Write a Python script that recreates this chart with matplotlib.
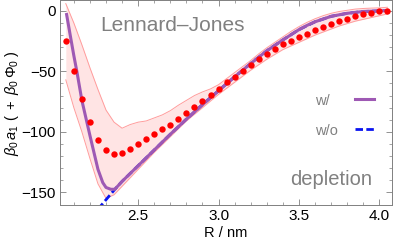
import numpy as np
import matplotlib
matplotlib.use("Agg")
import matplotlib.pyplot as plt
from matplotlib.lines import Line2D

plt.rcParams['font.family'] = ['Liberation Sans', 'DejaVu Sans']
plt.rcParams['mathtext.fontset'] = 'custom'
plt.rcParams['mathtext.rm'] = 'Liberation Sans'
plt.rcParams['mathtext.it'] = 'Liberation Sans:italic'

# simulation points (red dots) and error band
r_sim = [2.05, 2.10, 2.15, 2.20, 2.25, 2.30, 2.35, 2.40, 2.45, 2.50,
         2.55, 2.60, 2.65, 2.70, 2.75, 2.80, 2.85, 2.90, 2.95, 3.00,
         3.05, 3.10, 3.15, 3.20, 3.25, 3.30, 3.35, 3.40, 3.45, 3.50,
         3.55, 3.60, 3.65, 3.70, 3.75, 3.80, 3.85, 3.90, 3.95, 4.00, 4.05]
a_sim = [-25, -50, -73, -92, -106.5, -115, -118, -117.5, -114, -110,
         -106, -102, -98, -94, -89.6, -84.7, -79.7, -74.3, -69.6, -64.4,
         -58.9, -54.5, -49.8, -44.6, -40.1, -35.5, -31.4, -27.5, -24.5, -21.5,
         -18.7, -15.7, -13.2, -10.8, -8.3, -6.3, -4.4, -2.8, -1.7, -0.5, 0]
band_hi = [6, -10, -28, -47, -65, -82, -92, -97, -94, -92,
           -91, -88.5, -86, -82.5, -78, -74, -70, -67, -64.5, -61,
           -56, -51, -46, -41, -35.5, -30.5, -26, -21.5, -17, -13,
           -9.5, -6.5, -4, -2, -0.5, 0.5, 1.5, 2, 2.3, 2.5, 3]
band_lo = [-57, -80, -100, -122, -143, -155, -152, -145, -138, -131,
           -124, -117, -110.5, -104, -97.5, -91, -85.5, -80, -74.5, -69,
           -64, -59, -54, -49, -44.5, -40, -36, -32, -29, -26,
           -23, -20, -17.5, -15, -12.5, -10.5, -8.5, -7, -5.5, -4, -2.5]

# theory with depletion ("w/")
r_w = [2.055, 2.08, 2.10, 2.12, 2.15, 2.20, 2.25, 2.28, 2.30, 2.33, 2.355,
       2.40, 2.50, 2.60, 2.70, 2.80, 2.90, 3.00, 3.10, 3.20, 3.30, 3.40,
       3.50, 3.55, 3.60, 3.70, 3.80, 3.90, 4.00, 4.05]
a_w = [-3, -22, -37, -51, -74, -103, -131, -142, -146, -147.5, -147.5,
       -141, -128, -115, -102, -89.5, -77.5, -66, -54.5, -43.5, -33, -24,
       -15.5, -12, -9, -4.5, -2, -0.5, 0, 0.3]

# theory without depletion ("w/o")
r_wo = [2.25, 2.355, 2.40, 2.50, 2.60, 2.70, 2.80, 2.90, 3.00, 3.10, 3.20,
        3.30, 3.40, 3.50, 3.60, 3.70, 3.80, 3.90, 4.00, 4.05]
a_wo = [-164, -147.5, -141, -128, -115, -102, -89.5, -77.5, -66, -54.5, -43.5,
        -33, -24, -15.5, -9, -4.5, -2, -0.5, 0, 0.3]

purple = '#9E59B4'
blue = '#0A14F0'
gray = '#808080'
dash = (0, (2.7, 1.2))

fig = plt.figure(figsize=(3.93, 2.47), dpi=100)
ax = fig.add_axes([0.1527, 0.17, 0.8445, 0.829])

ax.fill_between(r_sim, band_lo, band_hi, color='#FFE4E4', lw=0, zorder=1)
ax.plot(r_sim, band_hi, color='#FF9C9C', lw=0.7, zorder=2)
ax.plot(r_sim, band_lo, color='#FF9C9C', lw=0.7, zorder=2)
ax.plot(r_wo, a_wo, color=blue, lw=2.0, ls=dash, zorder=3)
ax.plot(r_w, a_w, color=purple, lw=2.2, zorder=4, solid_joinstyle='round')
ax.plot(r_sim, a_sim, 'o', color='#FF0000', ms=4.6, mec='none', zorder=5)

ax.set_xlim(2.014, 4.078)
ax.set_ylim(-160.5, 8.8)
ax.set_xticks([2.5, 3.0, 3.5, 4.0])
ax.set_xticks(np.arange(2.1, 4.05, 0.1), minor=True)
ax.set_yticks([0, -50, -100, -150])
ax.set_yticklabels(['0', '\u221250', '\u2212100', '\u2212150'])
ax.set_yticks(np.arange(-150, 5, 10), minor=True)
ax.tick_params(which='both', direction='in', top=True, right=True,
               color=gray, labelsize=11, pad=3)
ax.tick_params(which='major', length=4, width=0.6)
ax.tick_params(which='minor', length=2, width=0.5)
for s in ax.spines.values():
    s.set_color(gray)
    s.set_linewidth(0.7)

ax.set_xlabel('R / nm', fontsize=10.5, labelpad=2)
ax.set_ylabel(r'$\beta_0\,a_1\ (\ +\ \beta_0\,\Phi_0\ )$', fontsize=10.5, labelpad=0)

ax.text(0.122, 0.876, 'Lennard\u2013Jones', transform=ax.transAxes,
        fontsize=15, color=gray, va='center', ha='left')
ax.text(0.94, 0.125, 'depletion', transform=ax.transAxes,
        fontsize=14.5, color=gray, va='center', ha='right')

handles = [Line2D([], [], color=purple, lw=2.2),
           Line2D([], [], color=blue, lw=2.0, ls=dash)]
ax.legend(handles, ['w/  ', 'w/o'], loc='center left',
          bbox_to_anchor=(0.768, 0.437), frameon=False, markerfirst=False,
          fontsize=10.5, labelcolor=gray, handlelength=1.3,
          handletextpad=1.2, labelspacing=1.1, borderpad=0, borderaxespad=0)

fig.savefig('out.png', dpi=100)
